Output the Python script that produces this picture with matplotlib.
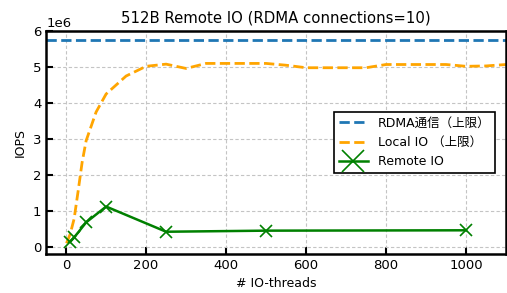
import numpy as np
import matplotlib
matplotlib.use('Agg')
import matplotlib.pyplot as plt

plt.rcParams['font.family'] = ['DejaVu Sans', 'Noto Sans CJK JP']

# データ
rdma_limit = 5.75e6
xlim_range = [-50, 1100]

local_threads = [1, 10, 20, 30, 40, 50, 75, 100, 150, 200, 250, 300, 350, 400,
                 450, 500, 550, 600, 650, 700, 750, 800, 850, 900, 950, 1000,
                 1050, 1100]
local_iops = [0.10e6, 0.35e6, 0.78e6, 1.55e6, 2.35e6, 2.95e6, 3.75e6, 4.25e6,
              4.75e6, 5.02e6, 5.08e6, 4.96e6, 5.10e6, 5.10e6, 5.10e6, 5.10e6,
              5.05e6, 4.98e6, 4.98e6, 4.98e6, 4.98e6, 5.07e6, 5.07e6, 5.07e6,
              5.07e6, 5.02e6, 5.03e6, 5.07e6]

remote_threads = [10, 20, 50, 100, 250, 500, 1000]
remote_iops = [0.14e6, 0.26e6, 0.68e6, 1.12e6, 0.42e6, 0.45e6, 0.46e6]

fig = plt.figure(figsize=(5.07, 2.93), dpi=100)
ax = fig.add_axes([0.091, 0.133, 0.907, 0.761])

ax.plot(xlim_range, [rdma_limit, rdma_limit], '--', color='#1f77b4', lw=2,
        label='RDMA通信（上限）')
ax.plot(local_threads, local_iops, '--', color='orange', lw=2,
        label='Local IO （上限）')
ax.plot(remote_threads, remote_iops, '-x', color='green', lw=1.8,
        markersize=8.5, markeredgewidth=1.2, label='Remote IO')

ax.set_xlim(xlim_range)
ax.set_ylim(-0.2e6, 6e6)
ax.set_title('512B Remote IO (RDMA connections=10)', fontsize=10.7)
ax.set_xlabel('# IO-threads', fontsize=9)
ax.set_ylabel('IOPS', fontsize=9)
ax.tick_params(direction='in', width=1.5, length=5, labelsize=9.5)
for s in ax.spines.values():
    s.set_linewidth(1.8)
ax.grid(True, linestyle=(0, (3, 2)), color='#c4c4c4', lw=0.8)
ax.yaxis.get_offset_text().set_fontsize(9.5)

leg = ax.legend(loc='center right', bbox_to_anchor=(0.99, 0.5), fontsize=9,
                fancybox=False, edgecolor='black', framealpha=1,
                markerscale=1.9, handlelength=2.3)
leg.get_frame().set_linewidth(1.2)

fig.savefig('out.png', dpi=100)
